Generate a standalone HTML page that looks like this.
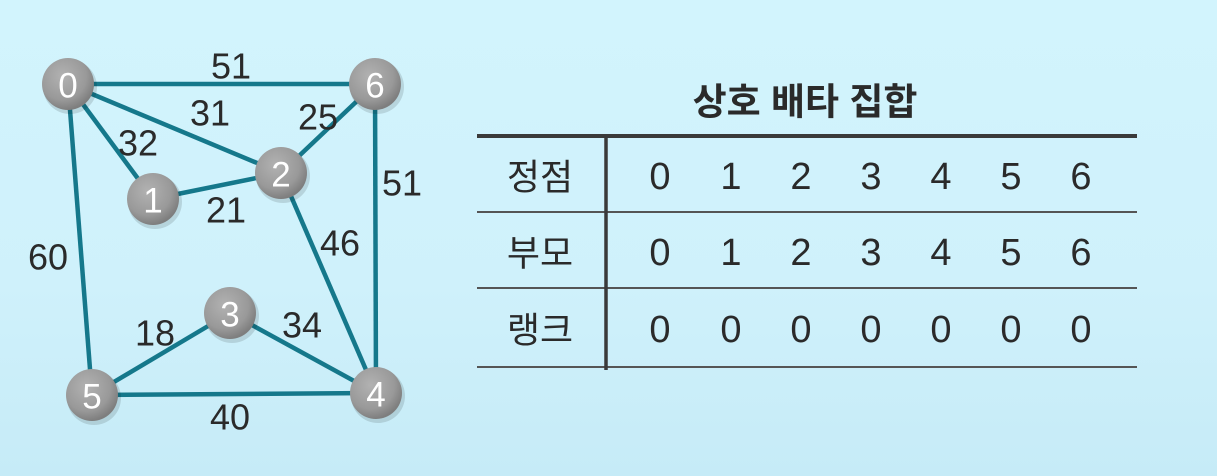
<!DOCTYPE html>
<html><head><meta charset="utf-8">
<style>
html,body{margin:0;padding:0;}
body{width:1217px;height:476px;overflow:hidden;background:linear-gradient(180deg,#d2f4fd 0%,#cff1fb 60%,#c6ebf7 100%);font-family:"Liberation Sans","Noto Sans CJK KR",sans-serif;position:relative;}
svg{position:absolute;left:0;top:0;}
</style></head>
<body>
<svg width="1217" height="476" viewBox="0 0 1217 476" id="g">
<defs>
<radialGradient id="ng" cx="40%" cy="35%" r="65%">
<stop offset="0%" stop-color="#b2b2b2"/><stop offset="70%" stop-color="#999"/><stop offset="100%" stop-color="#7e7e7e"/>
</radialGradient>
</defs>
</svg>
<svg width="1217" height="476" viewBox="0 0 1217 476" id="t"></svg>
<script>
const nodeIds=[0,1,2,3,4,5,6];
const nodeX=[68,153,281,230,376,92,375];
const nodeY=[84,199,173,313,393,395,84];
const edgeFrom=[0,0,0,1,2,6,2,0,5,3,5];
const edgeTo=[6,2,1,2,6,4,4,5,3,4,4];
const edgeW=[51,31,32,21,25,51,46,60,18,34,40];
const labelX=[231,210,138,226,318,402,340,48,155,302,230];
const labelY=[66,113,143,210,117,183,243,257,333,325,417];

const vertices=[0,1,2,3,4,5,6];
const parents=[0,1,2,3,4,5,6];
const ranks=[0,0,0,0,0,0,0];
const rowLabels=["정점","부모","랭크"];

const NS="http://www.w3.org/2000/svg";
function mk(p,tag,attrs){const e=document.createElementNS(NS,tag);for(const k in attrs)e.setAttribute(k,attrs[k]);p.appendChild(e);return e;}
const g=document.getElementById('g');
for(let i=0;i<edgeFrom.length;i++){
  const a=edgeFrom[i],b=edgeTo[i];
  const l=mk(g,'line',{x1:nodeX[a],y1:nodeY[a],x2:nodeX[b],y2:nodeY[b],stroke:'#15788b','stroke-width':4.5});
  
  
}
for(let i=0;i<edgeW.length;i++){
  const t=mk(g,'text',{x:labelX[i],y:labelY[i],'text-anchor':'middle','dominant-baseline':'central','font-size':36,fill:'#2a2a2a','font-family':'Liberation Sans, sans-serif'});
  t.textContent=edgeW[i];
  
  
}
for(let i=0;i<nodeIds.length;i++){
  mk(g,'circle',{cx:nodeX[i]+2,cy:nodeY[i]+3,r:27,fill:'rgba(0,0,0,0.12)'});
  const n=mk(g,'circle',{cx:nodeX[i],cy:nodeY[i],r:26,fill:'url(#ng)'});
  
  
  const t=mk(g,'text',{x:nodeX[i],y:nodeY[i]+2,'text-anchor':'middle','dominant-baseline':'central','font-size':35,fill:'#fff','font-family':'Liberation Sans, sans-serif'});
  t.textContent=nodeIds[i];
  
  
}

const t=document.getElementById('t');
const title=mk(t,'text',{x:805,y:102,'text-anchor':'middle','dominant-baseline':'central','font-size':37,'font-weight':'bold',fill:'#2a2a2a'});
title.textContent="상호 배타 집합";


const tl=mk(t,'line',{x1:477,y1:136,x2:1137,y2:136,stroke:'#3a3a3a','stroke-width':4});


const rowLines=[212,288,367];
for(let i=0;i<rowLines.length;i++){
  const l=mk(t,'line',{x1:477,y1:rowLines[i],x2:1137,y2:rowLines[i],stroke:'#555','stroke-width':2});
  
  
}
const vl=mk(t,'line',{x1:606,y1:136,x2:606,y2:370,stroke:'#3a3a3a','stroke-width':3.5});


const rowY=[177,253,330];
const colX=[660,731,801,871,941,1011,1081];
const rows=[vertices,parents,ranks];
for(let r=0;r<3;r++){
  const h=mk(t,'text',{x:540,y:rowY[r],'text-anchor':'middle','dominant-baseline':'central','font-size':36,fill:'#2a2a2a'});
  h.textContent=rowLabels[r];
  
  
  for(let c=0;c<rows[r].length;c++){
    const e=mk(t,'text',{x:colX[c],y:rowY[r],'text-anchor':'middle','dominant-baseline':'central','font-size':38,fill:'#2a2a2a'});
    e.textContent=rows[r][c];
    
    
  }
}
</script>
</body></html>
